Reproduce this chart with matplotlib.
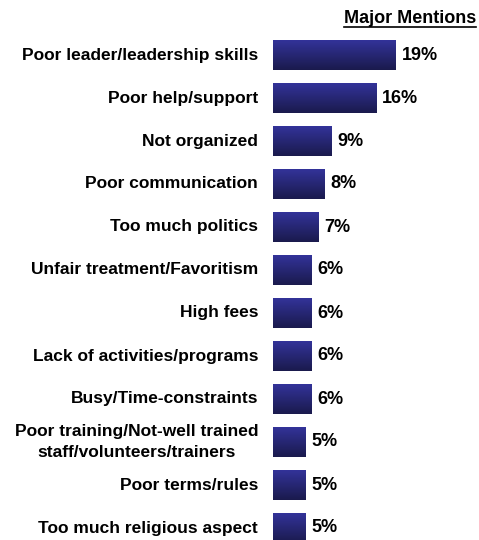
import numpy as np
import matplotlib
matplotlib.use("Agg")
from matplotlib import pyplot as plt
from matplotlib.colors import LinearSegmentedColormap

reasons = [
    "Poor leader/leadership skills",
    "Poor help/support",
    "Not organized",
    "Poor communication",
    "Too much politics",
    "Unfair treatment/Favoritism",
    "High fees",
    "Lack of activities/programs",
    "Busy/Time-constraints",
    "Poor training/Not-well trained\nstaff/volunteers/trainers",
    "Poor terms/rules",
    "Too much religious aspect",
]
mentions = [19, 16, 9, 8, 7, 6, 6, 6, 6, 5, 5, 5]

plt.rcParams['font.family'] = ['Liberation Sans', 'DejaVu Sans']

fig = plt.figure(figsize=(4.79, 5.4), dpi=100)
ax = fig.add_axes([273 / 479, 0, 206 / 479, 1])

y = np.arange(len(reasons))
bars = ax.barh(y, mentions, height=0.69, color="none", edgecolor="none")

# vertical gradient fill inside each bar
grad = LinearSegmentedColormap.from_list("navy", ["#333399", "#1a1a4d"])
ramp = np.linspace(0, 1, 64).reshape(-1, 1)
for rect, v in zip(bars, mentions):
    x0, y0 = rect.get_x(), rect.get_y()
    w, h = rect.get_width(), rect.get_height()
    im = ax.imshow(ramp, cmap=grad, aspect="auto", interpolation="bilinear",
                   extent=(x0, x0 + w, y0 + h, y0), zorder=2)
    im.set_clip_path(rect)
    ax.text(v + 0.9, rect.get_y() + h / 2, f"{v}%", va="center", ha="left",
            fontsize=13, fontweight="bold")

for yi, label in zip(y, reasons):
    ax.text(-2.3, yi, label, va="center", ha="right", fontsize=12.5,
            fontweight="bold", multialignment="center", linespacing=1.45,
            clip_on=False)

title = ax.text(0.985, 0.965, "Major Mentions", transform=ax.transAxes,
                ha="right", va="center", fontsize=13, fontweight="bold")

ax.set_xlim(0, 206 / 6.47)
ax.set_ylim((540 - 55) / 43, -55 / 43)
ax.axis("off")

# underline the heading across its own width
fig.canvas.draw()
bb = title.get_window_extent().transformed(fig.transFigure.inverted())
fig.add_artist(plt.Line2D([bb.x0, bb.x1], [bb.y0 + 0.001, bb.y0 + 0.001],
                          transform=fig.transFigure, color="black", lw=1.2))

fig.savefig("out.png", dpi=100)
